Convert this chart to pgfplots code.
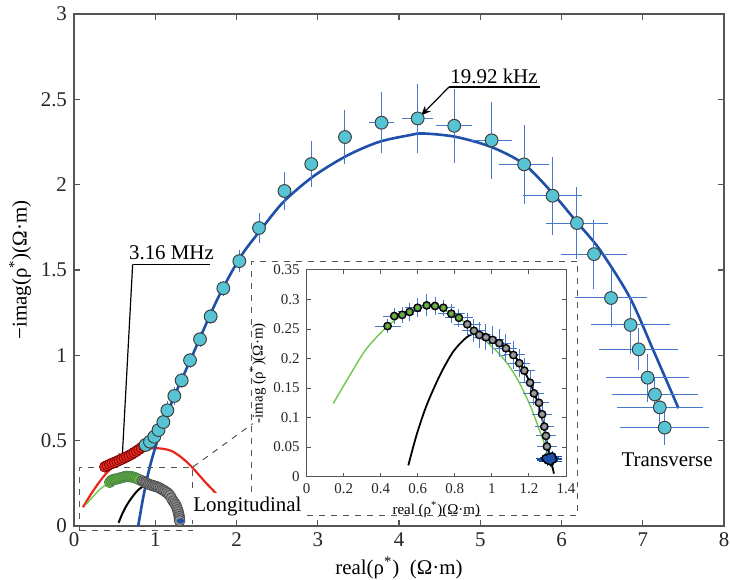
\documentclass[border=0pt]{standalone}
\usepackage{fontspec}
\setmainfont{Liberation Serif}
\usepackage{pgfplots}
\usepackage{pgfplotstable}
\pgfplotsset{compat=1.18}
\usetikzlibrary{arrows.meta}

\definecolor{cyanfill}{RGB}{86,196,212}
\definecolor{fitblue}{RGB}{30,80,170}
\definecolor{errblue}{RGB}{70,120,205}
\definecolor{redc}{RGB}{232,40,30}
\definecolor{greenm}{RGB}{95,185,50}
\definecolor{greenl}{RGB}{115,200,75}
\definecolor{greym}{RGB}{140,140,140}
\definecolor{axgray}{RGB}{85,85,85}

% Transverse data (cyan)
\pgfplotstableread{
x y ex ey
0.882 0.475 0.03 0.02
0.935 0.494 0.03 0.02
0.988 0.523 0.03 0.025
1.04 0.562 0.03 0.025
1.10 0.609 0.03 0.03
1.149 0.678 0.03 0.03
1.235 0.762 0.03 0.03
1.325 0.853 0.02 0.02
1.428 0.971 0.02 0.02
1.551 1.094 0.02 0.02
1.682 1.228 0.02 0.02
1.838 1.393 0.02 0.02
2.035 1.552 0.02 0.04
2.277 1.746 0.02 0.063
2.59 1.963 0.02 0.086
2.92 2.121 0.02 0.111
3.335 2.279 0.04 0.133
3.785 2.363 0.11 0.156
4.23 2.388 0.14 0.18
4.68 2.345 0.174 0.193
5.14 2.26 0.205 0.203
5.54 2.119 0.26 0.206
5.89 1.935 0.31 0.204
6.19 1.775 0.33 0.188
6.40 1.593 0.36 0.179
6.61 1.336 0.39 0.146
6.85 1.178 0.44 0.146
6.95 1.035 0.44 0.10
7.06 0.869 0.46 0.117
7.15 0.771 0.48 0.08
7.21 0.695 0.48 0.07
7.27 0.576 0.50 0.078
}\cyandata

% Transverse fit
\pgfplotstableread{
x y
0.79 0.0
0.853 0.17
0.935 0.35
1.06 0.55
1.235 0.76
1.43 0.97
1.756 1.32
2.04 1.57
2.29 1.73
2.58 1.90
2.95 2.05
3.36 2.17
3.75 2.25
4.13 2.29
4.3 2.30
4.7 2.28
5.14 2.22
5.54 2.12
5.89 1.95
6.19 1.78
6.47 1.62
6.84 1.34
7.13 1.03
7.44 0.69
}\bluefit

% red fit
\pgfplotstableread{
x y
0.11 0.11
0.2 0.18
0.3 0.25
0.4 0.31
0.5 0.355
0.6 0.39
0.7 0.42
0.8 0.44
0.9 0.452
1.0 0.456
1.1 0.452
1.2 0.44
1.3 0.41
1.4 0.37
1.5 0.32
1.6 0.265
1.7 0.215
1.76 0.185
}\redfit

% red points (main)
\pgfplotstableread{
x y
0.38 0.347
0.41 0.354
0.44 0.361
0.47 0.367
0.50 0.373
0.53 0.379
0.56 0.386
0.59 0.392
0.62 0.399
0.65 0.406
0.68 0.413
0.71 0.421
0.74 0.430
0.77 0.439
0.80 0.449
0.83 0.459
0.86 0.468
}\reddense

% green points (main, dense)
\pgfplotstableread{
x y
0.44 0.256
0.46 0.266
0.48 0.272
0.50 0.274
0.52 0.275
0.54 0.278
0.56 0.280
0.58 0.283
0.60 0.286
0.62 0.288
0.64 0.290
0.66 0.290
0.68 0.289
0.70 0.289
0.72 0.287
0.74 0.285
0.76 0.281
0.78 0.276
0.80 0.272
}\greendense

% grey points (main, dense)
\pgfplotstableread{
x y
0.84 0.265
0.86 0.258
0.88 0.254
0.90 0.249
0.92 0.245
0.94 0.241
0.96 0.238
0.98 0.235
1.00 0.233
1.02 0.230
1.04 0.226
1.06 0.221
1.08 0.215
1.10 0.210
1.12 0.204
1.14 0.197
1.16 0.189
1.18 0.179
1.20 0.163
1.22 0.146
1.24 0.133
1.255 0.122
1.265 0.108
1.275 0.095
1.283 0.082
1.29 0.068
1.295 0.055
1.298 0.042
1.30 0.030
}\greydense

% green fit
\pgfplotstableread{
x y
0.144 0.124
0.234 0.172
0.324 0.217
0.437 0.255
0.52 0.274
0.60 0.285
0.66 0.288
0.72 0.285
0.80 0.273
0.88 0.255
0.954 0.234
1.062 0.200
1.134 0.167
1.206 0.121
1.26 0.076
1.305 0.037
1.323 0.014
}\greenfit

% black fit
\pgfplotstableread{
x y
0.549 0.019
0.594 0.071
0.648 0.121
0.72 0.172
0.792 0.212
0.864 0.236
0.92 0.244
0.97 0.240
1.01 0.233
1.05 0.225
1.10 0.211
1.15 0.193
1.20 0.163
1.24 0.132
1.27 0.100
1.29 0.068
1.31 0.040
1.335 0.005
}\blackfit

% inset green points
\pgfplotstableread{
x y ex ey
0.437 0.255 0.058 0.008
0.473 0.272 0.05 0.010
0.516 0.274 0.05 0.010
0.556 0.279 0.05 0.012
0.599 0.286 0.055 0.012
0.648 0.290 0.05 0.015
0.693 0.289 0.05 0.012
0.738 0.286 0.05 0.010
0.781 0.276 0.06 0.012
0.822 0.269 0.065 0.012
}\greenin

% inset grey points
\pgfplotstableread{
x y ex ey
0.867 0.258 0.06 0.015
0.903 0.247 0.055 0.016
0.932 0.240 0.05 0.018
0.968 0.236 0.05 0.018
1.004 0.2315 0.05 0.02
1.040 0.226 0.05 0.02
1.076 0.2174 0.05 0.02
1.116 0.206 0.05 0.02
1.148 0.192 0.047 0.02
1.175 0.1795 0.045 0.018
1.206 0.159 0.045 0.018
1.227 0.141 0.045 0.016
1.254 0.125 0.04 0.015
1.271 0.1056 0.04 0.015
1.283 0.0847 0.04 0.014
1.292 0.069 0.04 0.013
1.297 0.051 0.04 0.012
}\greyin

% blue cluster (high frequency)
\pgfplotstableread{
x y ex ey
1.29 0.031 0.04 0.006
1.30 0.028 0.045 0.007
1.31 0.033 0.04 0.008
1.315 0.026 0.05 0.006
1.32 0.030 0.045 0.007
1.33 0.029 0.035 0.006
1.325 0.034 0.04 0.005
}\bluecl

\begin{document}
\begin{tikzpicture}
\useasboundingbox (0,0) rectangle (365bp,290bp);
\begin{axis}[
  at={(37bp,27bp)}, anchor=south west,
  scale only axis, width=325bp, height=256bp,
  xmin=0, xmax=8, ymin=0, ymax=3,
  xtick={0,1,2,3,4,5,6,7,8},
  ytick={0,0.5,1,1.5,2,2.5,3},
  clip=false,
  axis line style={axgray, line width=0.6bp},
  tick style={axgray, line width=0.6bp},
  major tick length=3bp,
  tick label style={font=\fontsize{10.5}{12}\selectfont, text=black!85},
  label style={font=\fontsize{10.5}{12}\selectfont},
  /pgf/number format/assume math mode=true,
  xlabel={real(ρ\textsuperscript{*})\ \ (Ω·m)},
  ylabel={−imag(ρ\textsuperscript{*})(Ω·m)},
  xlabel style={yshift=2bp},
  ylabel style={yshift=-2bp},
]
\addplot[redc, line width=1.1bp, smooth] table {\redfit};
\addplot[greenl, line width=0.7bp, smooth] table {\greenfit};
\addplot[black, line width=1bp, smooth] table {\blackfit};
\addplot[only marks, mark=*, mark size=2.7bp, mark options={fill=redc, draw=red!45!black, line width=0.35bp}] table {\reddense};
\addplot[only marks, mark=*, mark size=2.7bp, mark options={fill=greenm, draw=green!30!black!70, line width=0.35bp}] table {\greendense};
\addplot[only marks, mark=*, mark size=2.7bp, mark options={fill=greym, draw=black!70, line width=0.35bp}] table {\greydense};
\addplot[only marks, mark=*, mark size=0.8bp, mark options={fill=fitblue, draw=fitblue}] table[x=x,y=y] {\bluecl};
\addplot[fitblue, line width=1.3bp, smooth] table {\bluefit};
\addplot[only marks, mark=none,
  error bars/.cd, x dir=both, x explicit, y dir=both, y explicit,
  error bar style={errblue, line width=0.5bp},
  error mark options={errblue, mark size=2bp, line width=0.5bp}]
  table[x=x, y=y, x error=ex, y error=ey] {\cyandata};
\addplot[only marks, mark=*, mark size=3.2bp, mark options={fill=cyanfill, draw=black!75, line width=0.5bp}] table[x=x,y=y] {\cyandata};

% zoom box and inset frame
\draw[dashed, axgray, line width=0.5bp] (axis cs:0.065,-0.027) rectangle (axis cs:1.46,0.344);
\draw[dashed, axgray, line width=0.5bp] (axis cs:1.468,0.347) -- (axis cs:2.20,0.60);
\draw[dashed, axgray, line width=0.5bp] (axis cs:2.19,0.059) rectangle (axis cs:6.20,1.552);
\node[fill=white, inner sep=2bp, font=\fontsize{10.5}{12}\selectfont] at (axis cs:2.135,0.113) {Longitudinal};
\node[font=\fontsize{10.5}{12}\selectfont] at (axis cs:7.30,0.387) {Transverse};

% 19.92 kHz
\draw[black, line width=0.6bp] (axis cs:5.735,2.572) -- (axis cs:4.615,2.572);
\draw[black, line width=0.6bp, -{Stealth[length=5bp,width=4bp]}] (axis cs:4.615,2.572) -- (axis cs:4.27,2.405);
\node[anchor=base, inner sep=0pt, font=\fontsize{10.5}{12}\selectfont] at (axis cs:5.17,2.595) {19.92 kHz};

% 3.16 MHz
\draw[black, line width=0.6bp] (axis cs:1.674,1.533) -- (axis cs:0.722,1.533);
\draw[black, line width=0.6bp, -{Stealth[length=5bp,width=4bp]}] (axis cs:0.722,1.533) -- (axis cs:0.59,0.37);
\node[anchor=base, inner sep=0pt, font=\fontsize{10.5}{12}\selectfont] at (axis cs:1.20,1.56) {3.16 MHz};
\end{axis}

\begin{axis}[
  at={(153.3bp,51.7bp)}, anchor=south west,
  scale only axis, width=129.7bp, height=103.3bp,
  xmin=0, xmax=1.4, ymin=0, ymax=0.35,
  xtick={0,0.2,0.4,0.6,0.8,1,1.2,1.4},
  ytick={0,0.05,0.1,0.15,0.2,0.25,0.3,0.35},
  axis background/.style={fill=white},
  axis line style={axgray, line width=0.5bp},
  tick style={axgray, line width=0.5bp},
  major tick length=2bp,
  tick label style={font=\fontsize{7.5}{9}\selectfont, text=black!85},
  label style={font=\fontsize{7.5}{9}\selectfont},
  /pgf/number format/assume math mode=true,
  yticklabel style={/pgf/number format/fixed},
  xlabel={real (ρ\textsuperscript{*})(Ω·m)},
  ylabel={-imag (ρ\textsuperscript{*})(Ω·m)},
  xlabel style={yshift=3bp},
  ylabel style={yshift=-3bp},
]
\addplot[greenl, line width=0.7bp, smooth] table {\greenfit};
\addplot[black, line width=0.9bp, smooth] table {\blackfit};
\addplot[only marks, mark=none,
  error bars/.cd, x dir=both, x explicit, y dir=both, y explicit,
  error bar style={errblue, line width=0.5bp},
  error mark options={errblue, mark size=1.1bp, line width=0.5bp}]
  table[x=x, y=y, x error=ex, y error=ey] {\greenin};
\addplot[only marks, mark=none,
  error bars/.cd, x dir=both, x explicit, y dir=both, y explicit,
  error bar style={errblue, line width=0.5bp},
  error mark options={errblue, mark size=1.1bp, line width=0.5bp}]
  table[x=x, y=y, x error=ex, y error=ey] {\greyin};
\addplot[only marks, mark=none,
  error bars/.cd, x dir=both, x explicit, y dir=both, y explicit,
  error bar style={fitblue, line width=0.6bp},
  error mark options={fitblue, mark size=1.1bp, line width=0.6bp}]
  table[x=x, y=y, x error=ex, y error=ey] {\bluecl};
\addplot[only marks, mark=*, mark size=1.1bp, mark options={fill=fitblue, draw=fitblue}] table[x=x,y=y] {\bluecl};
\addplot[only marks, mark=*, mark size=1.3bp, mark options={fill=greenm, draw=black!60, line width=0.3bp}] table[x=x,y=y] {\greenin};
\addplot[only marks, mark=*, mark size=1.3bp, mark options={fill=greym!85, draw=black!60, line width=0.3bp}] table[x=x,y=y] {\greyin};
\end{axis}
\end{tikzpicture}
\end{document}
